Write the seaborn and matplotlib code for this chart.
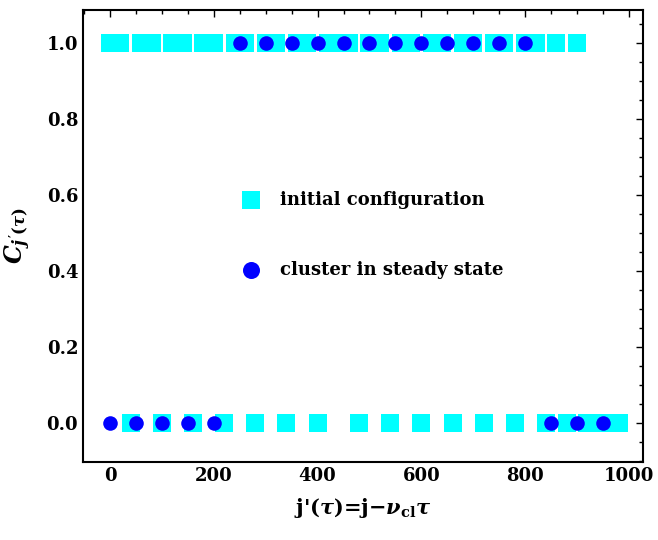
import pandas as pd
import matplotlib
matplotlib.use("Agg")
import matplotlib.pyplot as plt
from matplotlib.ticker import MultipleLocator
import seaborn as sns

# initial configuration (squares)
init_one = [0, 20, 60, 80, 120, 140, 180, 200, 240, 260, 300, 320, 360, 380,
            420, 440, 460, 500, 520, 560, 580, 620, 640, 680, 700, 740, 760,
            800, 820, 860, 900]
init_zero = [40, 100, 160, 220, 280, 340, 400, 480, 540, 600, 660, 720, 780,
             840, 880, 920, 940, 960, 980]

# cluster in steady state (circles)
steady_one = [250, 300, 350, 400, 450, 500, 550, 600, 650, 700, 750, 800]
steady_zero = [0, 50, 100, 150, 200, 850, 900, 950]

x_ticks = [0, 200, 400, 600, 800, 1000]
y_ticks = [0.0, 0.2, 0.4, 0.6, 0.8, 1.0]

init_df = pd.DataFrame({"j": init_one + init_zero,
                        "C": [1.0] * len(init_one) + [0.0] * len(init_zero)})
steady_df = pd.DataFrame({"j": steady_one + steady_zero,
                          "C": [1.0] * len(steady_one) + [0.0] * len(steady_zero)})

sns.set_style("white")
plt.rcParams["font.family"] = ["DejaVu Serif"]
plt.rcParams["font.weight"] = "bold"
plt.rcParams["axes.labelweight"] = "bold"
plt.rcParams["text.color"] = "black"
plt.rcParams["axes.labelcolor"] = "black"
plt.rcParams["xtick.color"] = "black"
plt.rcParams["ytick.color"] = "black"
plt.rcParams["mathtext.fontset"] = "custom"
plt.rcParams["mathtext.rm"] = "DejaVu Serif:bold"
plt.rcParams["mathtext.bf"] = "DejaVu Serif:bold"
plt.rcParams["mathtext.it"] = "DejaVu Serif:italic:bold"

fig = plt.figure(figsize=(6.58, 5.40), dpi=100)
ax = fig.add_axes([83 / 658, 78 / 540, 560 / 658, 452 / 540])

sns.scatterplot(data=init_df, x="j", y="C", marker="s", s=185, color="#00FFFF",
                linewidth=0, ax=ax, label="initial configuration", zorder=2)
sns.scatterplot(data=steady_df, x="j", y="C", marker="o", s=110, color="#0000FF",
                linewidth=0, ax=ax, label="cluster in steady state", zorder=3)

ax.set_xlim(-52, 1027)
ax.set_ylim(-0.102, 1.0876)
ax.set_xticks(x_ticks)
ax.set_xticklabels([str(v) for v in x_ticks])
ax.set_yticks(y_ticks)
ax.set_yticklabels([f"{v:.1f}" for v in y_ticks])
ax.xaxis.set_minor_locator(MultipleLocator(50))
ax.yaxis.set_minor_locator(MultipleLocator(0.05))
ax.tick_params(which="both", direction="in", top=True, right=True,
               labelsize=13, width=1.0, color="black", labelcolor="black")
ax.tick_params(which="major", length=5)
ax.tick_params(which="minor", length=3)
for lab in ax.get_xticklabels() + ax.get_yticklabels():
    lab.set_fontweight("bold")
for sp in ax.spines.values():
    sp.set_linewidth(1.5)
    sp.set_color("black")

ax.set_xlabel(r"j'($\tau$)=j$-\nu_{\mathrm{cl}}\tau$", fontsize=15,
              fontweight="bold", labelpad=8)
ax.set_ylabel(r"$C_{j'(\tau)}$", fontsize=17, fontweight="bold", labelpad=10)

leg = ax.legend(loc="upper left", bbox_to_anchor=(0.268, 0.6), frameon=False,
                fontsize=13, labelspacing=2.9, handletextpad=0.6,
                borderpad=0, borderaxespad=0)
leg.legend_handles[0].set_sizes([180])
leg.legend_handles[1].set_sizes([150])
for t in leg.get_texts():
    t.set_fontweight("bold")
    t.set_color("black")

fig.savefig("out.png", dpi=100)
